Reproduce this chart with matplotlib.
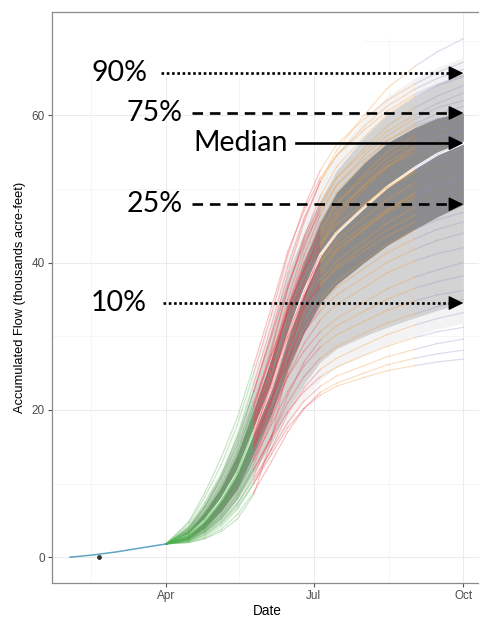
import numpy as np
import pandas as pd
import matplotlib
matplotlib.use('Agg')
import matplotlib.pyplot as plt
import matplotlib.dates as mdates
from matplotlib.collections import LineCollection
from matplotlib.colors import to_rgba

# 觀測期 (Feb-Mar)
obs_dates = ['2019-02-01', '2019-02-15', '2019-03-01', '2019-03-15', '2019-04-01']
obs_flow = [0.0, 0.3, 0.7, 1.2, 1.8]
obs_point_date = '2019-02-19'
obs_point_flow = 0.0

# 預報日期
fc_dates = ['2019-04-01', '2019-04-15', '2019-04-25', '2019-05-05', '2019-05-15', '2019-05-25',
            '2019-06-05', '2019-06-15', '2019-06-25', '2019-07-05', '2019-07-15', '2019-08-01',
            '2019-08-15', '2019-09-01', '2019-09-15', '2019-10-01']

q05 = [1.8, 2.1, 3.0, 4.6, 7.0, 10.3, 14.0, 18.0, 21.5, 24.0, 25.8, 27.5, 28.8, 30.0, 31.0, 31.8]
q10 = [1.8, 2.3, 3.4, 5.2, 7.8, 11.5, 15.5, 20.0, 23.5, 26.5, 28.3, 30.0, 31.2, 32.5, 33.5, 34.5]
q25 = [1.8, 2.6, 4.0, 6.3, 9.3, 14.0, 19.5, 25.5, 30.5, 34.5, 37.0, 40.0, 42.3, 44.5, 46.2, 47.9]
q50 = [1.8, 3.0, 5.0, 7.8, 11.5, 17.0, 23.0, 30.0, 36.0, 41.0, 44.0, 47.5, 50.2, 52.8, 54.7, 56.2]
q75 = [1.8, 3.6, 6.2, 9.5, 14.0, 20.0, 27.0, 34.0, 40.0, 45.5, 49.5, 53.5, 56.2, 58.3, 59.6, 60.3]
q90 = [1.8, 4.2, 7.2, 11.0, 16.0, 23.0, 31.0, 38.5, 44.0, 48.5, 52.5, 57.0, 60.0, 62.5, 64.2, 65.7]
q95 = [1.8, 4.6, 7.9, 12.0, 17.5, 25.0, 33.5, 41.0, 46.5, 51.0, 55.0, 59.5, 62.5, 65.0, 66.5, 67.8]

# 各集合成員
traces = [
    [1.8, 3.8, 6.8, 10.8, 15.8, 22.5, 30.5, 38.5, 45.5, 51.0, 55.2, 60.0, 63.6, 66.6, 68.6, 70.4],
    [1.8, 4.6, 8.2, 12.5, 18.0, 25.0, 33.0, 41.0, 47.5, 52.5, 56.0, 59.5, 62.0, 64.2, 65.8, 67.2],
    [1.8, 4.0, 7.0, 11.0, 16.5, 23.5, 31.5, 39.5, 46.0, 51.0, 54.5, 58.5, 61.2, 63.5, 65.0, 66.2],
    [1.8, 3.4, 5.8, 9.0, 13.5, 20.0, 28.0, 36.5, 43.5, 49.0, 53.0, 57.0, 60.0, 62.5, 64.0, 65.2],
    [1.8, 3.2, 5.4, 8.4, 12.5, 18.5, 26.5, 35.0, 42.0, 47.5, 51.5, 55.5, 58.5, 61.0, 62.6, 64.0],
    [1.8, 3.6, 6.2, 9.6, 14.2, 20.5, 28.5, 36.5, 43.0, 48.0, 51.5, 55.0, 57.8, 60.0, 61.6, 63.0],
    [1.8, 2.9, 4.8, 7.6, 11.5, 17.5, 25.5, 34.0, 41.0, 46.5, 50.5, 54.5, 57.2, 59.5, 61.0, 62.0],
    [1.8, 3.1, 5.2, 8.2, 12.2, 18.0, 25.5, 33.5, 40.0, 45.5, 49.5, 53.5, 56.5, 58.8, 60.2, 61.2],
    [1.8, 4.2, 7.4, 11.2, 16.2, 22.5, 30.0, 37.0, 42.5, 47.0, 50.5, 54.0, 56.5, 58.5, 59.5, 60.3],
    [1.8, 2.7, 4.4, 7.0, 10.8, 16.5, 24.0, 32.0, 38.5, 44.0, 48.0, 52.0, 55.0, 57.2, 58.5, 59.5],
    [1.8, 3.3, 5.6, 8.8, 13.0, 19.0, 26.5, 34.0, 40.0, 44.5, 48.0, 51.5, 54.2, 56.5, 57.8, 58.8],
    [1.8, 2.8, 4.6, 7.3, 11.0, 16.5, 23.5, 31.0, 37.5, 42.5, 46.5, 50.5, 53.5, 55.8, 57.0, 58.0],
    [1.8, 3.5, 6.0, 9.4, 13.8, 19.5, 26.5, 33.5, 39.0, 43.5, 47.0, 50.5, 53.0, 55.0, 56.2, 57.2],
    [1.8, 3.0, 5.0, 7.8, 11.5, 17.0, 23.0, 30.0, 36.0, 41.0, 44.2, 47.6, 50.3, 52.8, 54.7, 56.4],
    [1.8, 2.6, 4.2, 6.6, 10.0, 15.0, 21.5, 28.5, 35.0, 40.5, 44.0, 47.5, 50.0, 52.5, 54.2, 55.6],
    [1.8, 3.7, 6.4, 10.0, 14.5, 20.5, 27.5, 34.0, 39.0, 42.5, 45.2, 48.0, 50.2, 52.2, 53.6, 54.8],
    [1.8, 2.9, 4.7, 7.4, 11.0, 16.2, 22.5, 29.5, 35.5, 40.0, 43.0, 46.0, 48.5, 50.8, 52.4, 53.6],
    [1.8, 2.5, 3.9, 6.2, 9.5, 14.5, 21.0, 28.0, 34.0, 38.5, 41.5, 44.5, 47.0, 49.5, 51.0, 52.4],
    [1.8, 3.2, 5.3, 8.2, 12.0, 17.5, 24.0, 30.5, 35.5, 39.0, 41.8, 44.6, 46.8, 48.8, 50.2, 51.3],
    [1.8, 2.7, 4.3, 6.8, 10.2, 15.2, 21.5, 28.0, 33.5, 37.5, 40.2, 43.0, 45.3, 47.5, 48.8, 50.0],
    [1.8, 2.4, 3.6, 5.6, 8.6, 13.2, 19.5, 26.5, 32.5, 36.8, 39.5, 42.2, 44.4, 46.4, 47.8, 48.9],
    [1.8, 3.4, 5.8, 9.0, 13.2, 18.5, 24.5, 30.0, 34.0, 37.0, 39.2, 41.6, 43.6, 45.5, 46.8, 47.8],
    [1.8, 2.8, 4.5, 7.0, 10.5, 15.5, 21.5, 27.0, 31.5, 35.0, 37.5, 40.2, 42.4, 44.5, 45.8, 46.8],
    [1.8, 2.3, 3.4, 5.2, 8.0, 12.5, 18.5, 25.0, 30.5, 34.2, 36.6, 39.2, 41.3, 43.2, 44.5, 45.5],
    [1.8, 3.0, 4.9, 7.6, 11.2, 16.0, 21.5, 26.5, 30.5, 33.5, 35.6, 38.0, 40.0, 41.8, 43.0, 44.0],
    [1.8, 2.5, 3.8, 5.9, 9.0, 13.5, 19.0, 24.5, 29.0, 32.2, 34.3, 36.6, 38.6, 40.2, 41.2, 42.0],
    [1.8, 2.9, 4.6, 7.1, 10.5, 15.0, 20.0, 24.5, 28.0, 30.6, 32.4, 34.6, 36.4, 38.0, 39.0, 40.0],
    [1.8, 2.2, 3.1, 4.7, 7.2, 11.0, 16.5, 22.0, 26.5, 29.5, 31.4, 33.4, 35.0, 36.5, 37.4, 38.2],
    [1.8, 2.6, 4.0, 6.2, 9.2, 13.2, 18.0, 22.5, 26.0, 28.5, 30.2, 32.0, 33.5, 34.8, 35.6, 36.2],
    [1.8, 2.4, 3.5, 5.3, 8.0, 11.8, 16.5, 21.0, 24.5, 27.0, 28.6, 30.4, 31.8, 33.0, 34.0, 35.0],
    [1.8, 2.1, 2.8, 4.2, 6.5, 10.0, 14.8, 19.5, 23.0, 25.5, 27.0, 28.8, 30.2, 31.5, 32.4, 33.2],
    [1.8, 2.5, 3.7, 5.6, 8.4, 12.0, 16.2, 19.8, 22.5, 24.5, 25.8, 27.4, 28.6, 29.8, 30.6, 31.2],
    [1.8, 2.3, 3.3, 4.9, 7.3, 10.6, 14.6, 18.3, 21.2, 23.2, 24.6, 26.0, 27.2, 28.2, 29.0, 29.6],
    [1.8, 2.0, 2.6, 3.8, 5.8, 8.8, 13.0, 17.0, 20.2, 22.4, 23.6, 25.0, 26.1, 27.0, 27.6, 28.1],
    [1.8, 2.2, 3.0, 4.5, 6.8, 10.0, 14.0, 17.6, 20.2, 22.0, 23.2, 24.4, 25.3, 26.0, 26.5, 26.9],
    [1.8, 3.9, 6.9, 10.6, 15.2, 21.0, 27.5, 33.0, 37.0, 40.0, 42.4, 45.0, 47.2, 49.2, 50.5, 51.6],
    [1.8, 2.0, 2.5, 3.5, 5.2, 8.5, 16.0, 26.0, 35.0, 42.0, 46.0, 50.0, 53.0, 55.5, 57.0, 58.0],
    [1.8, 4.8, 8.8, 13.5, 19.0, 26.0, 34.0, 41.5, 47.0, 51.5, 54.5, 58.0, 60.5, 62.8, 64.2, 65.4],
]

# 依時段上色
season_edges = ['2019-05-20', '2019-07-05', '2019-08-25']
season_colors = ['#4daf4a', '#ec3b3f', '#f39a3a', '#9f8ac4']

pct_labels = ['90%', '75%', 'Median', '25%', '10%']
pct_ends = [q90[-1], q75[-1], q50[-1], q25[-1], q10[-1]]
pct_text_dates = ['2019-02-14', '2019-03-08', '2019-04-18', '2019-03-08', '2019-02-14']
pct_arrow_start = ['2019-03-29', '2019-04-17', '2019-06-20', '2019-04-17', '2019-03-30']
pct_styles = [(0, (1, 1)), (0, (4, 2.6)), '-', (0, (4, 2.6)), (0, (1, 1))]

x_obs = mdates.date2num(pd.to_datetime(obs_dates))
x_fc = mdates.date2num(pd.to_datetime(fc_dates))
edges = mdates.date2num(pd.to_datetime(season_edges))

W, H = 479, 617
fig = plt.figure(figsize=(W / 100, H / 100), dpi=100)
ax = fig.add_axes([52 / W, 34 / H, 431 / W, 571 / H])

# 格線
ax.set_axisbelow(True)
ax.grid(True, which='major', color='#ebebeb', lw=0.7)
ax.grid(True, which='minor', color='#f3f3f3', lw=0.5)

# 白框遮住上方格線 (原圖的註解框)
ax.add_patch(plt.Rectangle((0.003, (583 - 77) / 571), (363 - 53) / 431, 0.12,
                           transform=ax.transAxes, color='white', zorder=0.7, lw=0))
ax.add_patch(plt.Rectangle(((363 - 53) / 431, (583 - 38) / 571), 100 / 431, 0.05,
                           transform=ax.transAxes, color='white', zorder=0.7, lw=0))

# 分位數帶
ax.fill_between(x_fc, q05, q95, color='#f3f3f3', lw=0, zorder=1)
ax.fill_between(x_fc, q10, q90, color='#d3d3d3', lw=0, zorder=1.1)
ax.fill_between(x_fc, q25, q75, color='#8c8c8c', lw=0, zorder=1.2)
ax.plot(x_fc, q50, color='white', lw=2.0, zorder=1.3)

# 集合成員線
for tr in traces:
    pts = np.column_stack([x_fc, tr])
    segs = np.stack([pts[:-1], pts[1:]], axis=1)
    mids = (x_fc[:-1] + x_fc[1:]) / 2
    cols = [to_rgba(season_colors[np.searchsorted(edges, m)], 0.3) for m in mids]
    ax.add_collection(LineCollection(segs, colors=cols, linewidths=0.9, zorder=2,
                                     capstyle='round', joinstyle='round'))

ax.plot(x_obs, obs_flow, color='#3a8db5', lw=1.1, alpha=0.8, zorder=2.1)
ax.scatter(mdates.date2num(pd.Timestamp(obs_point_date)), obs_point_flow, s=6, color='#333333', zorder=3)

# 註解箭頭
x_end = x_fc[-1]
for lab, yv, td, sd, ls in zip(pct_labels, pct_ends, pct_text_dates, pct_arrow_start, pct_styles):
    xs = mdates.date2num(pd.Timestamp(sd))
    ax.plot([xs, x_end - 3], [yv, yv], color='black', lw=1.9, ls=ls,
            dash_capstyle='butt', zorder=5)
    ax.annotate('', xy=(x_end, yv), xytext=(-10, 0), textcoords='offset points',
                arrowprops=dict(arrowstyle='-|>,head_length=0.45,head_width=0.22',
                                mutation_scale=20, color='black', lw=1.0,
                                shrinkA=0, shrinkB=0), zorder=6)
    ax.text(mdates.date2num(pd.Timestamp(td)), yv, lab, fontsize=20.5, family='Lato',
            ha='left', va='center', color='black', zorder=6)

# 軸
ax.set_xlim(mdates.date2num(pd.Timestamp('2019-01-20 22:00')),
            mdates.date2num(pd.Timestamp('2019-10-13 02:00')))
ax.set_ylim(-3.5, 74)
ax.set_xticks(mdates.date2num(pd.to_datetime(['2019-04-01', '2019-07-01', '2019-10-01'])))
ax.set_xticklabels(['Apr', 'Jul', 'Oct'])
ax.set_xticks(mdates.date2num(pd.to_datetime(['2019-02-14', '2019-05-16', '2019-08-16'])), minor=True)
ax.set_yticks([0, 20, 40, 60])
ax.set_yticks([10, 30, 50, 70], minor=True)
ax.tick_params(which='major', length=3, width=0.8, color='#555555', labelcolor='#4d4d4d',
               labelsize=8.5, pad=2.2)
ax.tick_params(which='minor', length=0)
for lbl in ax.get_xticklabels() + ax.get_yticklabels():
    lbl.set_family('Liberation Sans')
for sp in ax.spines.values():
    sp.set_color('#8a8a8a')
    sp.set_linewidth(0.9)

ax.set_xlabel('Date', fontsize=9.8, family='Liberation Sans', labelpad=1)
ax.set_ylabel('Accumulated Flow (thousands acre-feet)', fontsize=9.3,
              family='Liberation Sans', labelpad=4)

fig.savefig('out.png', dpi=100)
